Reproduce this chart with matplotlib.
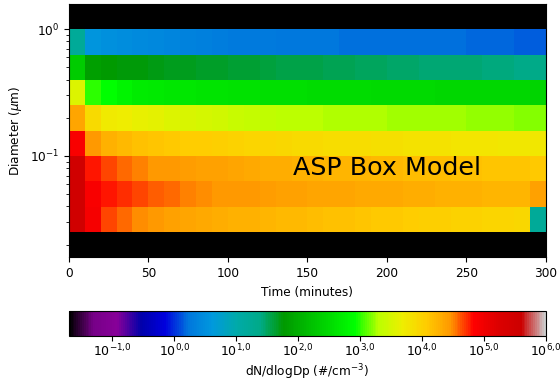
import numpy as np
import matplotlib
matplotlib.use("Agg")
import matplotlib.pyplot as plt
from matplotlib.colors import LogNorm

# time bin edges (minutes) and diameter bin edges (um)
time_edges = np.arange(0, 301, 10)
diam_edges = 10 ** np.arange(-1.8, 0.21, 0.2)

# log10(dN/dlogDp) per diameter bin, smallest bin first, 30 time steps each
row_h = [5.50, 4.92, 4.67, 4.56, 4.48, 4.44, 4.40, 4.36, 4.33, 4.31, 4.28, 4.26, 4.24, 4.22, 4.20,
         4.18, 4.16, 4.14, 4.12, 4.10, 4.08, 4.06, 4.04, 4.02, 4.00, 3.99, 3.97, 3.96, 3.95, 1.19]
row_g = [5.50, 4.90, 4.79, 4.72, 4.65, 4.60, 4.56, 4.50, 4.47, 4.46, 4.45, 4.44, 4.42, 4.40, 4.39,
         4.37, 4.36, 4.35, 4.34, 4.33, 4.32, 4.31, 4.29, 4.28, 4.27, 4.26, 4.25, 4.24, 4.23, 4.38]
row_f = [5.50, 4.79, 4.67, 4.58, 4.51, 4.46, 4.44, 4.42, 4.40, 4.38, 4.35, 4.33, 4.31, 4.30, 4.28,
         4.27, 4.25, 4.24, 4.23, 4.22, 4.20, 4.19, 4.18, 4.17, 4.16, 4.15, 4.13, 4.12, 4.11, 4.10]
row_e = [4.90, 4.46, 4.27, 4.20, 4.16, 4.12, 4.10, 4.07, 4.05, 4.03, 4.00, 3.98, 3.96, 3.94, 3.92,
         3.91, 3.89, 3.88, 3.87, 3.86, 3.84, 3.83, 3.82, 3.81, 3.80, 3.79, 3.78, 3.77, 3.76, 3.75]
row_d = [4.36, 3.90, 3.74, 3.69, 3.64, 3.62, 3.56, 3.52, 3.48, 3.45, 3.40, 3.36, 3.34, 3.32, 3.31,
         3.30, 3.29, 3.28, 3.28, 3.27, 3.26, 3.26, 3.25, 3.25, 3.24, 3.23, 3.22, 3.21, 3.20, 3.20]
row_c = [3.56, 3.02, 2.92, 2.80, 2.72, 2.69, 2.66, 2.64, 2.62, 2.61, 2.59, 2.58, 2.57, 2.56, 2.55,
         2.54, 2.53, 2.52, 2.52, 2.51, 2.50, 2.49, 2.49, 2.48, 2.48, 2.47, 2.47, 2.46, 2.46, 2.45]
row_b = [2.34, 1.82, 1.77, 1.75, 1.73, 1.71, 1.69, 1.68, 1.66, 1.64, 1.62, 1.61, 1.59, 1.57, 1.56,
         1.55, 1.54, 1.52, 1.51, 1.50, 1.47, 1.46, 1.45, 1.45, 1.44, 1.43, 1.42, 1.40, 1.39, 1.38]
row_a = [1.19, 0.58, 0.52, 0.47, 0.44, 0.41, 0.39, 0.35, 0.32, 0.30, 0.28, 0.27, 0.26, 0.25, 0.24,
         0.23, 0.23, 0.22, 0.22, 0.21, 0.21, 0.21, 0.20, 0.20, 0.20, 0.19, 0.19, 0.17, 0.16, 0.15]

logs = np.array([row_h, row_g, row_f, row_e, row_d, row_c, row_b, row_a])
conc = 10 ** logs
empty = np.zeros((1, conc.shape[1]))  # bins with no particles
conc = np.vstack([empty, conc, empty])

cbar_ticks = [1e-1, 1e0, 1e1, 1e2, 1e3, 1e4, 1e5, 1e6]
cbar_labels = ["$10^{-1{,}0}$", "$10^{0{,}0}$", "$10^{1{,}0}$", "$10^{2{,}0}$",
               "$10^{3{,}0}$", "$10^{4{,}0}$", "$10^{5{,}0}$", "$10^{6{,}0}$"]

fs = 8.7
cmap = plt.get_cmap("nipy_spectral").copy()
cmap.set_bad("black")

fig = plt.figure(figsize=(5.6, 3.83), dpi=100)
ax = fig.add_axes([0.123, 0.328, 0.852, 0.662])
cax = fig.add_axes([0.123, 0.1235, 0.852, 0.0645])

mesh = ax.pcolormesh(time_edges, diam_edges, np.ma.masked_less_equal(conc, 0),
                     cmap=cmap, norm=LogNorm(vmin=10 ** -1.7, vmax=1e6))
ax.set_yscale("log")
ax.set_xlim(0, 300)
ax.set_ylim(diam_edges[0], diam_edges[-1])
ax.set_xlabel("Time (minutes)", fontsize=fs)
ax.set_ylabel("Diameter ($\\mu$m)", fontsize=fs)
ax.tick_params(labelsize=fs)
ax.text(141, 0.081, "ASP Box Model", fontsize=18.3, va="center", ha="left")

cb = fig.colorbar(mesh, cax=cax, orientation="horizontal")
cb.set_ticks(cbar_ticks)
cb.set_ticklabels(cbar_labels)
cb.minorticks_off()
cb.ax.tick_params(labelsize=9, pad=1.5)
cb.set_label("dN/dlogDp (#/cm$^{-3}$)", fontsize=fs, labelpad=2)

fig.savefig("out.png", dpi=100)
